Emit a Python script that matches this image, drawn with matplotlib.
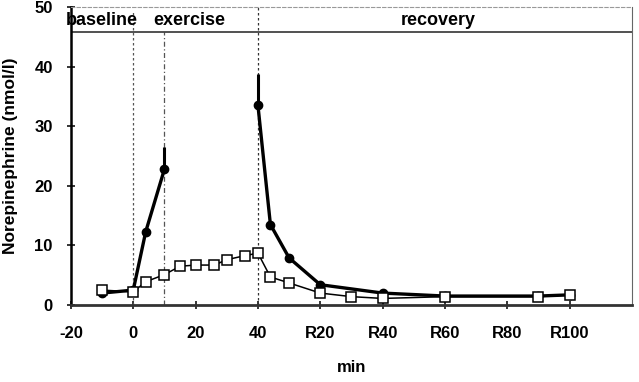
import matplotlib
matplotlib.use("Agg")
import matplotlib.pyplot as plt

plt.rcParams['font.family'] = ['Liberation Sans', 'DejaVu Sans']
plt.rcParams['font.weight'] = 'bold'

# time points (min); recovery minutes are shifted by 40 (R20 -> 60)
# filled series has no samples between min 10 and min 40 -> two segments
time_filled_a = [-10, 0, 4, 10]
ne_filled_a = [2.0, 2.5, 12.3, 22.8]
time_filled_b = [40, 44, 50, 60, 80, 100, 130, 140]
ne_filled_b = [33.5, 13.5, 7.9, 3.4, 2.0, 1.5, 1.5, 1.7]
err_x = [10, 40]
err_y = [22.8, 33.5]
err_up = [3.7, 5.3]

time_open = [-10, 0, 4, 10, 15, 20, 26, 30, 36, 40, 44, 50, 60, 70, 80, 100, 130, 140]
ne_open = [2.5, 2.2, 3.9, 5.1, 6.5, 6.7, 6.7, 7.6, 8.3, 8.7, 4.7, 3.7, 2.0, 1.4, 1.1, 1.4, 1.4, 1.7]

xtick_pos = [-20, 0, 20, 40, 60, 80, 100, 120, 140]
xtick_lab = ['-20', '0', '20', '40', 'R20', 'R40', 'R60', 'R80', 'R100']
phases = ['baseline', 'exercise', 'recovery']
phase_x = [-10, 18, 98]
band_y = 45.8

fig = plt.figure(figsize=(6.39, 3.82), dpi=100)
ax = fig.add_axes([0.111, 0.2016, 0.878, 0.78])

# phase separators
ax.axvline(0, ymin=0, ymax=0.99, color='#555555', lw=0.9, ls=(0, (2, 2)))
ax.axvline(10, ymin=0, ymax=band_y / 50, color='#555555', lw=0.9, ls=(0, (4, 2, 1, 2)))
ax.axvline(40, ymin=0, ymax=1, color='#333333', lw=0.9, ls=(0, (2, 2)))
ax.axhline(band_y, color='#333333', lw=1.2)

for lab, px in zip(phases, phase_x):
    ax.text(px, 47.8, lab, ha='center', va='center', fontsize=13, fontweight='bold')

# error bars (upper only)
ax.errorbar(err_x, err_y, yerr=[[0] * len(err_up), err_up], fmt='none',
            ecolor='black', elinewidth=2.2, capsize=0, zorder=3)
for tx, ty in [(time_filled_a, ne_filled_a), (time_filled_b, ne_filled_b)]:
    ax.plot(tx, ty, color='black', lw=2.4, marker='o', ms=6,
            mfc='black', mec='black', zorder=3)
ax.plot(time_open, ne_open, color='black', lw=1.1, marker='s', ms=6.5,
        mfc='white', mec='black', mew=1.1, zorder=4)

ax.set_xlim(-20, 160)
ax.set_ylim(0, 50)
ax.set_xticks(xtick_pos)
ax.set_xticklabels(xtick_lab)
ax.set_yticks(range(0, 51, 10))
ax.tick_params(axis='both', direction='inout', length=6, width=1.1, labelsize=12)
ax.tick_params(axis='x', pad=12)
ax.tick_params(axis='y', pad=10)

ax.spines['left'].set_linewidth(1.8)
ax.spines['bottom'].set_linewidth(2.0)
ax.spines['bottom'].set_color('#333333')
ax.spines['right'].set_color('#666666')
ax.spines['top'].set_color('#999999')
ax.spines['top'].set_linestyle((0, (3, 2)))
ax.spines['top'].set_linewidth(0.8)

ax.set_xlabel('min', fontsize=12, fontweight='bold', labelpad=14)
ax.set_ylabel('Norepinephrine (nmol/l)', fontsize=12.5, fontweight='bold', labelpad=12)

fig.savefig('out.png', dpi=100)
